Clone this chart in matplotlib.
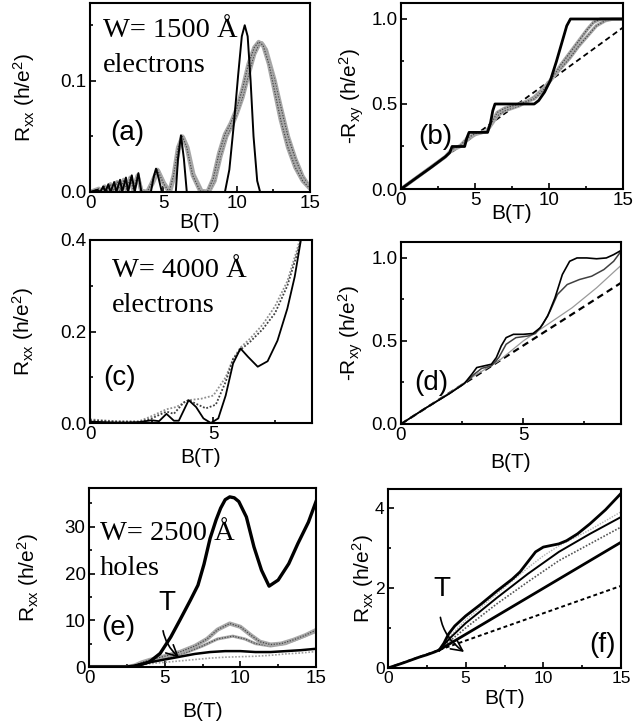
import numpy as np
import matplotlib
matplotlib.use("Agg")
import matplotlib.pyplot as plt
from matplotlib.ticker import AutoMinorLocator, MultipleLocator

plt.rcParams['font.family'] = ['Liberation Sans', 'DejaVu Sans']
plt.rcParams['mathtext.fontset'] = 'custom'
plt.rcParams['mathtext.rm'] = 'Liberation Sans'
plt.rcParams['mathtext.it'] = 'Liberation Sans:italic'
plt.rcParams['mathtext.default'] = 'regular'

# ---------------- (a) W=1500 A electrons, Rxx ----------------
a_blk_B = [0, 0.5, 0.7, 0.9, 1.05, 1.25, 1.4, 1.65, 1.8, 2.05, 2.2, 2.45, 2.6, 2.85, 3.05,
           3.3, 3.5, 4.15, 4.35, 4.5, 4.65, 4.9, 5.85, 6.0, 6.2, 6.4, 6.6, 9.2, 9.5, 9.8,
           10.1, 10.35, 10.55, 10.75, 10.95, 11.15, 11.4, 11.6, 15]
a_blk_R = [0, 0.002, 0, 0.005, 0, 0.007, 0, 0.009, 0, 0.011, 0, 0.013, 0, 0.015, 0,
           0.017, 0, 0, 0.014, 0.021, 0.014, 0, 0, 0.03, 0.051, 0.03, 0, 0, 0.02, 0.06,
           0.105, 0.14, 0.15, 0.14, 0.1, 0.05, 0.01, 0, 0]
a_g1_B = [0, 0.6, 0.8, 1.0, 1.2, 1.4, 1.6, 1.85, 2.05, 2.3, 2.5, 2.75, 2.95, 3.25, 3.5,
          3.9, 4.2, 4.6, 5.0, 5.4, 5.7, 6.0, 6.3, 6.6, 7.0, 7.5, 8.0, 8.4, 8.8, 9.2, 9.6,
          10.0, 10.4, 10.8, 11.2, 11.5, 11.8, 12.2, 12.6, 13.0, 13.5, 14.0, 14.5, 15]
a_g1_R = [0, 0.003, 0, 0.005, 0.001, 0.007, 0.001, 0.009, 0.001, 0.011, 0.002, 0.013, 0.002,
          0.015, 0.001, 0, 0.008, 0.02, 0.008, 0, 0.015, 0.04, 0.05, 0.04, 0.015, 0.001, 0,
          0.012, 0.035, 0.052, 0.062, 0.075, 0.093, 0.115, 0.13, 0.135, 0.132, 0.115, 0.09,
          0.065, 0.04, 0.022, 0.01, 0.003]
a_g2_B = [0, 0.6, 0.8, 1.0, 1.2, 1.4, 1.6, 1.85, 2.05, 2.3, 2.5, 2.75, 2.95, 3.25, 3.5,
          3.9, 4.25, 4.65, 5.05, 5.45, 5.75, 6.05, 6.35, 6.65, 7.05, 7.6, 8.1, 8.5, 8.9, 9.3,
          9.7, 10.0, 10.4, 10.8, 11.2, 11.5, 11.7, 12.0, 12.6, 13.0, 13.5, 14.0, 14.5, 15]
a_g2_R = [0, 0.002, 0, 0.004, 0.001, 0.006, 0.001, 0.008, 0.001, 0.01, 0.002, 0.012, 0.002,
          0.014, 0.001, 0, 0.007, 0.019, 0.008, 0, 0.014, 0.038, 0.049, 0.04, 0.016, 0.001, 0,
          0.01, 0.032, 0.05, 0.06, 0.07, 0.085, 0.105, 0.124, 0.132, 0.134, 0.128, 0.1,
          0.077, 0.05, 0.03, 0.014, 0.004]

# ---------------- (b) W=1500 A electrons, -Rxy ----------------
b_blk_B = [0, 1, 2, 3, 3.3, 3.45, 4.3, 4.45, 4.6, 5.85, 6.05, 6.2, 6.35, 9.0, 9.3, 9.7,
           10.1, 10.5, 10.9, 11.2, 11.45, 15]
b_blk_R = [0, 0.063, 0.125, 0.19, 0.215, 0.25, 0.25, 0.3, 0.333, 0.333, 0.39, 0.46, 0.5,
           0.5, 0.52, 0.57, 0.64, 0.75, 0.87, 0.96, 1.0, 1.0]
b_g1_B = [0, 3, 3.4, 4.0, 4.5, 5.0, 5.8, 6.2, 6.5, 7.0, 8.0, 9.0, 9.6, 10.2, 10.8, 11.4,
          12.0, 12.6, 13.0, 13.5, 15]
b_g1_R = [0, 0.19, 0.23, 0.255, 0.3, 0.325, 0.34, 0.4, 0.45, 0.475, 0.5, 0.53, 0.58, 0.65,
          0.73, 0.8, 0.87, 0.94, 0.98, 1.0, 1.0]
b_g2_B = [0, 3, 3.4, 4.0, 4.5, 5.0, 5.8, 6.2, 6.5, 7.0, 8.0, 9.0, 9.6, 10.2, 10.8, 11.4,
          12.0, 12.6, 13.2, 13.8, 14.3, 15]
b_g2_R = [0, 0.19, 0.225, 0.25, 0.29, 0.32, 0.34, 0.39, 0.43, 0.46, 0.49, 0.54, 0.59, 0.65,
          0.71, 0.77, 0.84, 0.9, 0.96, 0.99, 1.0, 1.0]
b_cls_B = [0, 15]
b_cls_R = [0, 0.95]

# ---------------- (c) W=4000 A electrons, Rxx ----------------
c_blk_B = [0, 0.5, 1, 1.5, 2, 2.5, 2.8, 3.1, 3.4, 3.6, 4.0, 4.3, 4.6, 4.9, 5.2, 5.5, 5.8,
           6.1, 6.4, 6.8, 7.2, 7.6, 8.0, 8.3, 8.55]
c_blk_R = [0.003, 0.002, 0.001, 0.001, 0.002, 0.006, 0.004, 0.02, 0.005, 0.005, 0.05, 0.035,
           0.01, 0.0, 0.01, 0.06, 0.13, 0.163, 0.145, 0.123, 0.135, 0.18, 0.25, 0.32, 0.4]
c_mid_B = [0, 1, 2, 2.5, 3.1, 3.4, 3.8, 4.0, 4.3, 4.7, 5.1, 5.5, 5.8, 6.1, 6.5, 7.0, 7.5,
           8.0, 8.4, 8.6]
c_mid_R = [0.006, 0.003, 0.002, 0.01, 0.025, 0.02, 0.045, 0.05, 0.042, 0.032, 0.04, 0.09,
           0.14, 0.16, 0.178, 0.205, 0.24, 0.3, 0.37, 0.41]
c_top_B = [0, 1, 2, 2.5, 3.1, 3.5, 4.0, 4.5, 5.0, 5.5, 5.8, 6.1, 6.5, 7.0, 7.5, 8.0, 8.4,
           8.55]
c_top_R = [0.008, 0.004, 0.004, 0.015, 0.03, 0.035, 0.05, 0.053, 0.06, 0.1, 0.14, 0.165,
           0.185, 0.215, 0.255, 0.31, 0.38, 0.41]

# ---------------- (d) W=4000 A electrons, -Rxy ----------------
d_blk_B = [0, 1, 2, 2.6, 2.9, 3.1, 3.4, 3.7, 3.9, 4.1, 4.3, 4.6, 5.0, 5.4, 5.7, 6.0, 6.3,
           6.6, 6.9, 7.2, 7.6, 8.0, 8.4, 8.7, 9.0]
d_blk_R = [0, 0.095, 0.185, 0.245, 0.3, 0.34, 0.35, 0.36, 0.4, 0.47, 0.52, 0.54, 0.54,
           0.545, 0.58, 0.65, 0.76, 0.9, 0.98, 1.0, 1.0, 0.995, 1.0, 1.02, 1.045]
d_mid_B = [0, 1, 2, 2.6, 3.0, 3.3, 3.7, 4.0, 4.3, 4.7, 5.2, 5.5, 5.8, 6.1, 6.4, 6.8, 7.3,
           7.8, 8.3, 8.7, 9.0]
d_mid_R = [0, 0.095, 0.185, 0.245, 0.3, 0.335, 0.35, 0.4, 0.48, 0.52, 0.53, 0.545, 0.6,
           0.68, 0.78, 0.84, 0.87, 0.89, 0.93, 0.98, 1.04]
d_lgt_B = [0, 1, 2, 3, 3.5, 4.0, 4.5, 5.0, 5.5, 6.0, 7.0, 8.0, 9.0]
d_lgt_R = [0, 0.095, 0.19, 0.29, 0.335, 0.38, 0.44, 0.5, 0.55, 0.6, 0.7, 0.82, 0.955]
d_cls_B = [0, 9]
d_cls_R = [0, 0.85]

# ---------------- (e) W=2500 A holes, Rxx ----------------
e_blk_B = [0, 2.5, 3.0, 3.5, 4.0, 4.7, 5.4, 6.0, 6.7, 7.2, 7.6, 8.0, 8.4, 8.7, 9.0, 9.3,
           9.6, 9.9, 10.4, 10.9, 11.4, 11.9, 12.5, 13.2, 13.8, 14.5, 15]
e_blk_R = [0, 0, 0.2, 0.6, 1.1, 2.9, 6.4, 10, 14.3, 17.5, 22, 27.5, 31.5, 34, 35.8, 36.4,
           36.2, 35.4, 32.1, 25.7, 20.7, 17.3, 18.6, 22.1, 26.4, 31, 35.4]
e_gA_B = [0, 2.5, 3.0, 3.5, 4.0, 5.0, 6.0, 7.0, 7.8, 8.5, 9.3, 10.0, 10.7, 11.3, 12.0,
          12.7, 13.5, 14.3, 15]
e_gA_R = [0, 0, 0.3, 1.0, 1.5, 2.3, 3.2, 4.5, 6.0, 8.0, 9.3, 8.6, 6.8, 5.4, 4.8, 5.0, 5.8,
          6.8, 7.9]
e_gB_B = [0, 2.5, 3.0, 3.5, 4.5, 5.5, 6.5, 7.5, 8.5, 9.5, 10.3, 11.0, 12.0, 13.0, 14.0, 15]
e_gB_R = [0, 0, 0.3, 0.8, 1.5, 2.3, 3.2, 4.5, 6.0, 6.6, 6.0, 5.0, 4.5, 5.0, 6.3, 7.6]
e_mid_B = [0, 2.5, 3, 4, 5, 6, 7, 8, 9, 10, 11, 12, 13, 14, 15]
e_mid_R = [0, 0, 0.2, 1.0, 1.6, 2.2, 2.8, 3.2, 3.4, 3.4, 3.2, 3.2, 3.4, 3.6, 3.9]
e_lgt_B = [0, 2.5, 3, 4, 5, 6, 7, 8, 9, 10, 11, 12, 13, 14, 15]
e_lgt_R = [0, 0, 0.2, 0.7, 1.0, 1.3, 1.6, 1.9, 2.1, 2.2, 2.3, 2.5, 2.8, 3.0, 3.3]

# ---------------- (f) W=2500 A holes ----------------
f_low_B = [0, 1, 2, 2.5, 3.0, 3.3]
f_low_R = [0, 0.13, 0.27, 0.33, 0.4, 0.45]
f_top_B = [3.3, 3.6, 3.9, 4.3, 5.0, 6.0, 7.0, 8.0, 8.5, 9.0, 9.5, 10.0, 10.5, 11.0, 11.5,
           12.2, 13.0, 14.0, 15]
f_top_R = [0.45, 0.62, 0.85, 1.05, 1.3, 1.6, 1.92, 2.22, 2.4, 2.65, 2.9, 3.02, 3.06, 3.1,
           3.18, 3.35, 3.6, 3.95, 4.36]
f_bot_B = [3.3, 15]
f_bot_R = [0.45, 3.14]
f_mid_B = [3.3, 4, 5, 7, 9, 11, 13, 15]
f_mid_R = [0.45, 0.75, 1.12, 1.75, 2.35, 2.9, 3.35, 3.77]
f_dot_B = [3.3, 4, 5, 7, 9, 11, 13, 15]
f_dot_R = [0.45, 0.68, 1.0, 1.6, 2.15, 2.68, 3.1, 3.52]
f_lgt_B = [3.3, 4, 5, 7, 9, 10, 11, 13, 15]
f_lgt_R = [0.45, 0.8, 1.2, 1.85, 2.5, 2.8, 3.05, 3.45, 3.9]
f_cls_B = [0, 15]
f_cls_R = [0, 2.05]

W, H = 635, 727
fig = plt.figure(figsize=(W / 100, H / 100), dpi=100)


def add_ax(l, r, t, b):
    return fig.add_axes([l / W, 1 - b / H, (r - l) / W, (b - t) / H])


def style(ax, xlim, ylim, xmaj, ymaj, ylab, ylx, xly, tsize=13.5):
    ax.set_xlim(*xlim)
    ax.set_ylim(*ylim)
    ax.xaxis.set_major_locator(MultipleLocator(xmaj))
    ax.yaxis.set_major_locator(MultipleLocator(ymaj))
    ax.xaxis.set_minor_locator(AutoMinorLocator(2))
    ax.yaxis.set_minor_locator(AutoMinorLocator(2))
    ax.tick_params(which='both', direction='in', labelsize=tsize, width=1.2)
    ax.tick_params(axis='x', pad=2.5)
    ax.tick_params(axis='y', pad=2.5)
    ax.tick_params(which='major', length=4)
    ax.tick_params(which='minor', length=2.5)
    for s in ax.spines.values():
        s.set_linewidth(1.5)
    ax.set_ylabel(ylab, fontsize=15, va='center')
    ax.yaxis.set_label_coords(ylx, 0.5)
    ax.set_xlabel('B(T)', fontsize=15, va='center')
    ax.xaxis.set_label_coords(0.5, xly)


def textured(ax, x, y, lw=3.0):
    ax.plot(x, y, color='#a8a8a8', lw=lw, solid_capstyle='round')
    ax.plot(x, y, color='#484848', lw=0.9, ls=(0, (1, 1.2)))


serif = ['Liberation Serif', 'DejaVu Serif']
rxx = 'R$_{xx}$ (h/e$^2$)'
rxy = '-R$_{xy}$ (h/e$^2$)'

# (a)
ax = add_ax(90, 310, 3, 192)
textured(ax, a_g2_B, a_g2_R)
textured(ax, a_g1_B, a_g1_R)
ax.plot(a_blk_B, a_blk_R, color='black', lw=1.4)
style(ax, (0, 15), (0, 0.17), 5, 0.1, rxx, -0.30, -0.16)
ax.yaxis.set_major_formatter(matplotlib.ticker.FormatStrFormatter('%.1f'))
ax.text(0.06, 0.82, 'W= 1500 Å', transform=ax.transAxes, family=serif, fontsize=20.5)
ax.text(0.06, 0.635, 'electrons', transform=ax.transAxes, family=serif, fontsize=20.5)
ax.text(0.168, 0.312, '(a)', transform=ax.transAxes, fontsize=20, ha='center', va='center')

# (b)
ax = add_ax(401, 623, 3, 189)
ax.plot(b_cls_B, b_cls_R, color='black', lw=1.3, ls=(0, (3, 2)))
textured(ax, b_g2_B, b_g2_R, lw=2.5)
textured(ax, b_g1_B, b_g1_R, lw=2.5)
ax.plot(b_blk_B, b_blk_R, color='black', lw=2.0)
style(ax, (0, 15), (0, 1.094), 5, 0.5, rxy, -0.22, -0.13)
ax.yaxis.set_major_formatter(matplotlib.ticker.FormatStrFormatter('%.1f'))
ax.text(0.153, 0.28, '(b)', transform=ax.transAxes, fontsize=20, ha='center', va='center')

# (c)
ax = add_ax(90, 312, 240, 423)
ax.plot(c_top_B, c_top_R, color='#909090', lw=1.3, ls=(0, (1, 1)))
ax.plot(c_mid_B, c_mid_R, color='#404040', lw=1.3, ls=(0, (1, 1)))
ax.plot(c_blk_B, c_blk_R, color='black', lw=1.3)
style(ax, (0, 9), (0, 0.4), 5, 0.2, rxx, -0.30, -0.19)
ax.yaxis.set_major_formatter(matplotlib.ticker.FormatStrFormatter('%.1f'))
ax.text(0.098, 0.80, 'W= 4000 Å', transform=ax.transAxes, family=serif, fontsize=20.5)
ax.text(0.098, 0.608, 'electrons', transform=ax.transAxes, family=serif, fontsize=20.5)
ax.text(0.135, 0.246, '(c)', transform=ax.transAxes, fontsize=20, ha='center', va='center')

# (d)
ax = add_ax(401, 621, 242, 424)
ax.plot(d_cls_B, d_cls_R, color='black', lw=1.6, ls=(0, (3, 2)))
ax.plot(d_lgt_B, d_lgt_R, color='#9a9a9a', lw=0.9)
ax.plot(d_mid_B, d_mid_R, color='#404040', lw=1.1)
ax.plot(d_blk_B, d_blk_R, color='black', lw=1.2)
style(ax, (0, 9), (0, 1.096), 5, 0.5, rxy, -0.23, -0.21)
ax.yaxis.set_major_formatter(matplotlib.ticker.FormatStrFormatter('%.1f'))
ax.text(0.14, 0.225, '(d)', transform=ax.transAxes, fontsize=20, ha='center', va='center')

# (e)
ax = add_ax(89, 316, 488, 667)
ax.plot(e_lgt_B, e_lgt_R, color='#a0a0a0', lw=1.2, ls=(0, (1, 1)))
textured(ax, e_gB_B, e_gB_R, lw=2.2)
textured(ax, e_gA_B, e_gA_R, lw=3.0)
ax.plot(e_mid_B, e_mid_R, color='black', lw=1.8)
ax.plot(e_blk_B, e_blk_R, color='black', lw=2.4)
style(ax, (0, 15), (0, 38.3), 5, 10, rxx, -0.27, -0.246)
ax.text(0.048, 0.71, 'W= 2500 Å', transform=ax.transAxes, family=serif, fontsize=20.5)
ax.text(0.048, 0.514, 'holes', transform=ax.transAxes, family=serif, fontsize=20.5)
ax.text(0.128, 0.218, '(e)', transform=ax.transAxes, fontsize=20, ha='center', va='center')
ax.annotate('T', xy=(5.95, 2.0), xytext=(5.15, 13.8), fontsize=20, ha='center', va='center',
            arrowprops=dict(arrowstyle='->', lw=1.2, color='black', shrinkA=9, shrinkB=0,
                            connectionstyle='arc3,rad=0.35'))

# (f)
ax = add_ax(388, 621, 489, 668)
ax.plot(f_cls_B, f_cls_R, color='black', lw=1.4, ls=(0, (2, 1.5)))
ax.plot(f_lgt_B, f_lgt_R, color='#b0b0b0', lw=1.0, ls=(0, (1, 1)))
ax.plot(f_dot_B, f_dot_R, color='#555555', lw=1.2, ls=(0, (1, 1)))
ax.plot(f_mid_B, f_mid_R, color='black', lw=1.4)
ax.plot(f_bot_B, f_bot_R, color='black', lw=2.0)
ax.plot(f_top_B, f_top_R, color='black', lw=2.0)
ax.plot(f_low_B, f_low_R, color='black', lw=2.0)
style(ax, (0, 15), (0, 4.47), 5, 2, rxx, -0.107, -0.168, tsize=12.5)
ax.text(0.92, 0.13, '(f)', transform=ax.transAxes, fontsize=20, ha='center', va='center')
ax.annotate('T', xy=(4.9, 0.4), xytext=(3.5, 1.97), fontsize=20, ha='center', va='center',
            arrowprops=dict(arrowstyle='->', lw=1.2, color='black', shrinkA=9, shrinkB=0,
                            connectionstyle='arc3,rad=0.35'))

fig.savefig('out.png', dpi=100)
